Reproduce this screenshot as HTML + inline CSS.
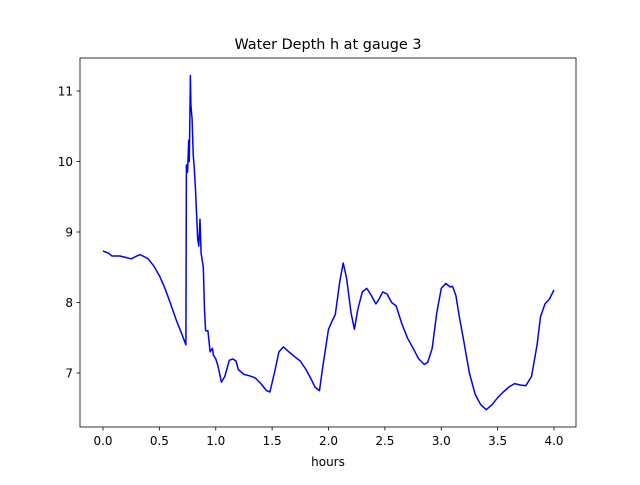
<!DOCTYPE html>
<html><head><meta charset="utf-8"><style>
body{margin:0;background:#fff;font-family:"Liberation Sans","DejaVu Sans",sans-serif}
svg text{font-family:"DejaVu Sans","Liberation Sans",sans-serif;font-size:12px;fill:#000}
</style></head><body>
<svg width="640" height="480" id="c">
<rect width="640" height="480" fill="#fff"/>
<text x="328" y="49" text-anchor="middle" style="font-size:14.4px">Water Depth h at gauge 3</text>
<text x="328" y="466" text-anchor="middle">hours</text>
<g id="ticks"></g>
<polyline id="line" fill="none" stroke="#0000ff" stroke-width="1.5" stroke-linejoin="round"/>
<rect x="80" y="58" width="496" height="369" fill="none" stroke="#000" stroke-width="0.8"/>
</svg>
<script>
const hours=[0,0.05,0.08,0.15,0.2,0.25,0.3,0.33,0.4,0.45,0.5,0.55,0.6,0.65,0.7,0.735,0.74,0.75,0.76,0.765,0.775,0.78,0.79,0.8,0.81,0.82,0.84,0.85,0.86,0.87,0.88,0.89,0.9,0.91,0.93,0.95,0.97,0.98,1.0,1.02,1.05,1.08,1.12,1.15,1.18,1.2,1.25,1.3,1.35,1.4,1.45,1.48,1.52,1.56,1.6,1.65,1.7,1.75,1.8,1.85,1.88,1.92,1.95,2.0,2.03,2.06,2.1,2.13,2.16,2.2,2.23,2.26,2.3,2.34,2.38,2.42,2.45,2.48,2.52,2.56,2.6,2.65,2.7,2.75,2.8,2.85,2.88,2.92,2.96,3.0,3.04,3.08,3.1,3.13,3.16,3.2,3.25,3.3,3.35,3.4,3.45,3.5,3.55,3.6,3.65,3.7,3.75,3.8,3.85,3.88,3.92,3.96,4.0];
const depth=[8.73,8.7,8.66,8.66,8.64,8.62,8.66,8.68,8.62,8.52,8.38,8.2,7.98,7.75,7.55,7.4,9.95,9.85,10.3,10.0,11.22,10.8,10.6,10.1,9.9,9.6,8.9,8.8,9.18,8.7,8.6,8.5,7.9,7.6,7.6,7.3,7.35,7.25,7.2,7.1,6.87,6.95,7.18,7.2,7.17,7.05,6.98,6.96,6.93,6.85,6.75,6.73,7.0,7.3,7.37,7.3,7.23,7.17,7.05,6.9,6.8,6.75,7.1,7.62,7.73,7.83,8.3,8.56,8.35,7.85,7.62,7.9,8.15,8.2,8.1,7.98,8.05,8.15,8.12,8.0,7.95,7.7,7.5,7.35,7.2,7.12,7.15,7.35,7.85,8.2,8.27,8.22,8.23,8.1,7.8,7.45,7.0,6.7,6.55,6.48,6.55,6.65,6.73,6.8,6.85,6.83,6.82,6.95,7.4,7.8,7.98,8.05,8.18];
const xTicks=[0,0.5,1,1.5,2,2.5,3,3.5,4];
const xLabels=["0.0","0.5","1.0","1.5","2.0","2.5","3.0","3.5","4.0"];
const yTicks=[7,8,9,10,11];
const yLabels=["7","8","9","10","11"];
const X=v=>103+v*112.75, Y=v=>373-(v-7)*70.5;
const NS="http://www.w3.org/2000/svg";
const g=document.getElementById('ticks');
xTicks.forEach((t,i)=>{
 const l=document.createElementNS(NS,'line');
 l.setAttribute('x1',X(t));l.setAttribute('x2',X(t));l.setAttribute('y1',427);l.setAttribute('y2',430.5);l.setAttribute('stroke','#000');l.setAttribute('stroke-width','0.8');
 
 
 g.appendChild(l);
 const tx=document.createElementNS(NS,'text');
 tx.setAttribute('x',X(t));tx.setAttribute('y',445);tx.setAttribute('text-anchor','middle');tx.textContent=xLabels[i];
 
 
 g.appendChild(tx);
});
yTicks.forEach((t,i)=>{
 const l=document.createElementNS(NS,'line');
 l.setAttribute('x1',76.5);l.setAttribute('x2',80);l.setAttribute('y1',Y(t));l.setAttribute('y2',Y(t));l.setAttribute('stroke','#000');l.setAttribute('stroke-width','0.8');
 
 
 g.appendChild(l);
 const tx=document.createElementNS(NS,'text');
 tx.setAttribute('x',73);tx.setAttribute('y',Y(t)+4.5);tx.setAttribute('text-anchor','end');tx.textContent=yLabels[i];
 
 
 g.appendChild(tx);
});
document.getElementById('line').setAttribute('points',hours.map((h,i)=>X(h).toFixed(1)+','+Y(depth[i]).toFixed(1)).join(' '));
</script>
</body></html>
